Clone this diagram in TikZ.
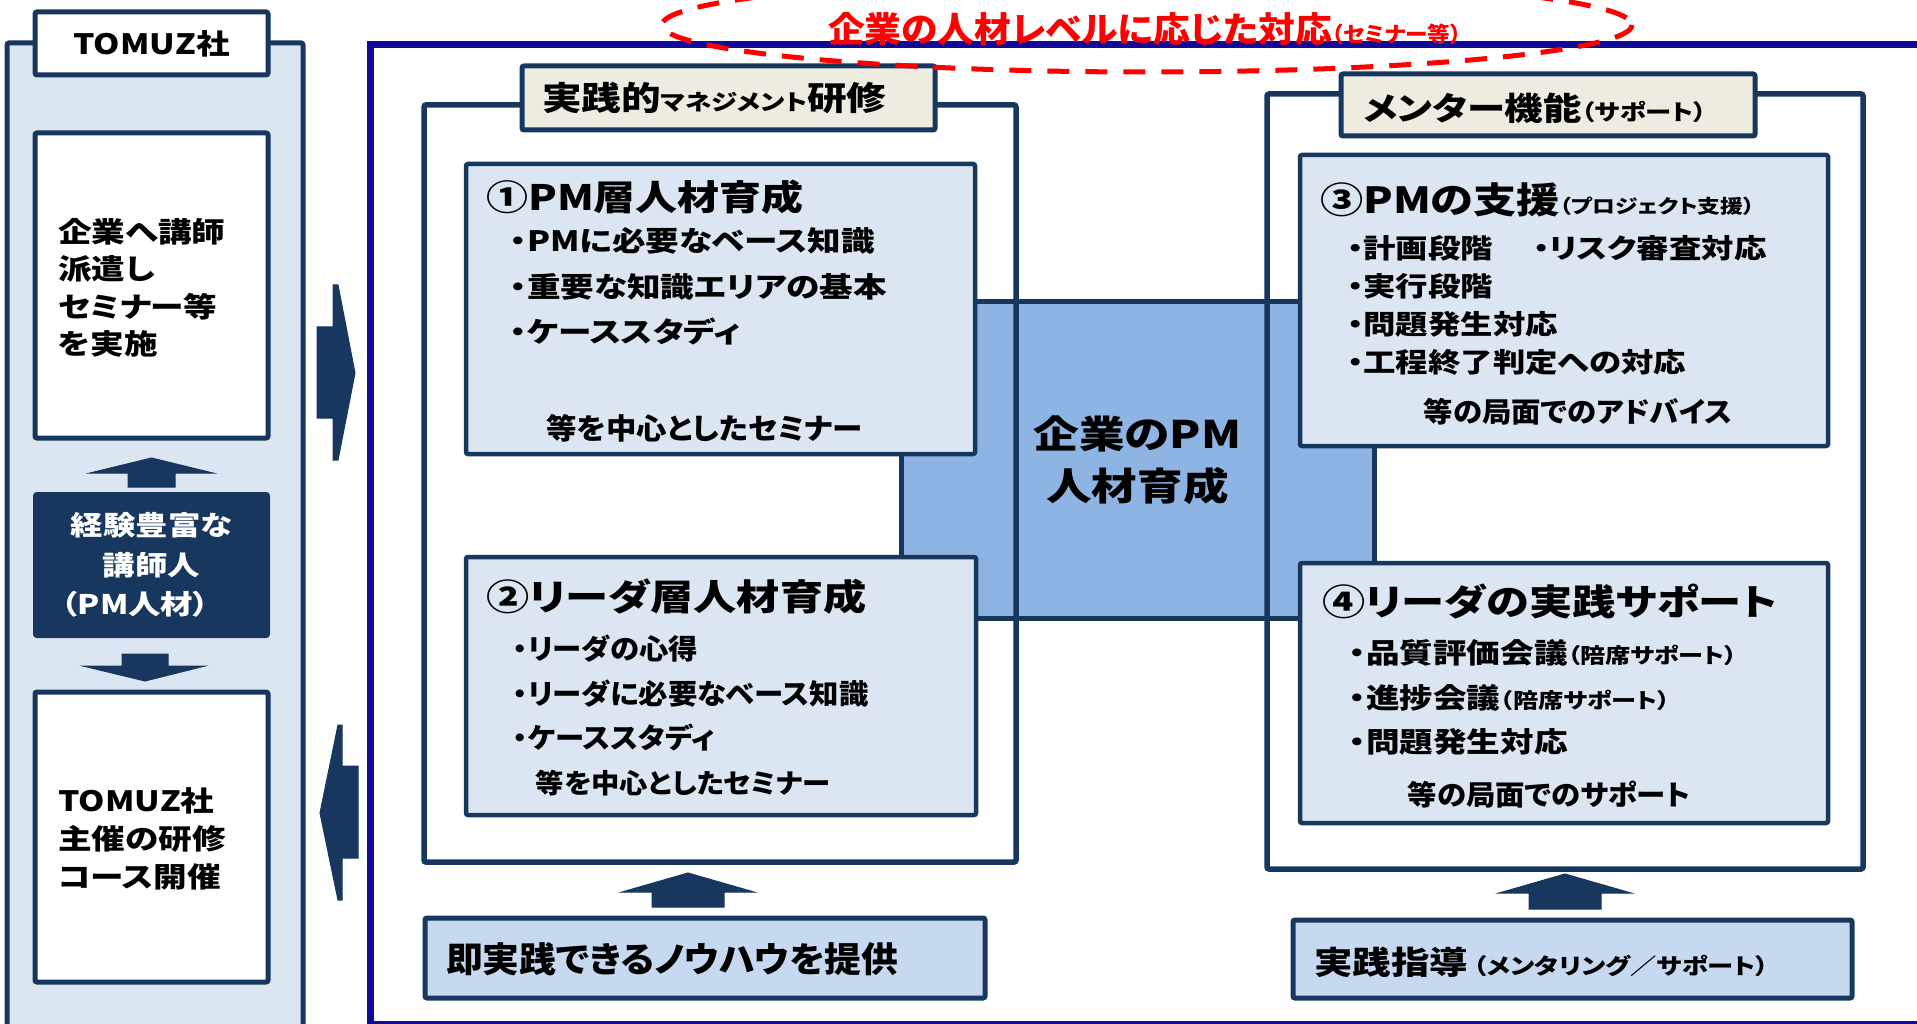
\documentclass[tikz,border=0pt]{standalone}
\usepackage{fontspec}
\setmainfont{Noto Sans CJK JP}[FakeStretch=1.2, RawFeature={+palt}]
\newfontfamily\narrowjp{Noto Sans CJK JP}[FakeStretch=1.05, RawFeature={+palt}]
\definecolor{navy}{HTML}{17375E}
\definecolor{paleblue}{HTML}{DCE6F2}
\definecolor{softblue}{HTML}{C6D9F1}
\definecolor{coreblue}{HTML}{8EB4E3}
\definecolor{tabbeige}{HTML}{EEECE1}
\definecolor{framepurple}{HTML}{110A96}
\tikzset{
	fs/.style 2 args={font=\fontsize{#1}{#2}\selectfont\bfseries},
	nfs/.style 2 args={font=\narrowjp\fontsize{#1}{#2}\selectfont\bfseries},
	txt/.style={inner sep=0pt, text=black},
	panelbox/.style={draw=navy, line width=5pt, fill=paleblue, rounded corners=2pt, inner sep=0pt},
	whitebox/.style={draw=navy, line width=5pt, fill=white, rounded corners=2pt, inner sep=0pt},
	darkbox/.style={draw=navy, line width=4pt, fill=navy, text=white, rounded corners=2pt, inner sep=0pt},
	outerframe/.style={draw=framepurple, line width=7pt, inner sep=0pt},
	bigframe/.style={draw=navy, line width=5.5pt, rounded corners=2pt, inner sep=0pt},
	tabbox/.style={draw=navy, line width=5pt, fill=tabbeige, rounded corners=2pt, inner sep=0pt},
	itembox/.style={draw=navy, line width=4.5pt, fill=paleblue, rounded corners=2pt, inner sep=0pt},
	basebox/.style={draw=navy, line width=5pt, fill=softblue, rounded corners=2pt, inner sep=0pt},
	corebox/.style={draw=navy, line width=5pt, fill=coreblue, inner sep=0pt},
	blockarrow/.style={draw=navy, fill=navy, line width=1pt, line join=miter},
	redring/.style={draw=red, line width=5pt, dash pattern=on 22pt off 16pt}
}
\begin{document}
\begin{tikzpicture}[x=1pt, y=-1pt]
	\useasboundingbox (0,0) rectangle (1917,1024);
	\fill[white] (0,0) rectangle (1917,1024);
	\clip (0,0) rectangle (1917,1024);

	% TOMUZ side
	\node (side) at (155,551.5)	[panelbox, minimum width=296pt, minimum height=1017pt]	{};
	\node (tomuz) at (151.5,43.5)	[whitebox, minimum width=233pt, minimum height=63pt, fs={28}{34}]	{TOMUZ社};
	\node (dispatch) at (151.5,285.5)	[whitebox, minimum width=233pt, minimum height=305pt]	{};
	\node (lecturer) at (151.5,565)	[darkbox, minimum width=233pt, minimum height=142pt, align=center, fs={27}{39.5}]	{経験豊富な\\講師人\\\hspace*{-32pt}（PM人材）};
	\node (course) at (151.5,837)	[whitebox, minimum width=233pt, minimum height=290pt]	{};
	\node (dispatchtext) at (58,288)	[txt, anchor=west, align=left, fs={28}{37.5}]	{企業へ講師\\派遣し\\セミナー等\\を実施};
	\node (coursetext) at (58,839)	[txt, anchor=west, align=left, fs={28}{38}]	{TOMUZ社\\主催の研修\\コース開催};
	\draw[blockarrow] (128,487) -- (128,473) -- (90,473) -- (151.5,458) -- (213,473) -- (175,473) -- (175,487) -- cycle;
	\draw[blockarrow] (122,654) -- (168,654) -- (168,666) -- (205,666) -- (145,681) -- (83,666) -- (122,666) -- cycle;

	% arrows between side and client
	\draw[blockarrow] (317,327) -- (333,327) -- (333,285) -- (338,285) -- (355,373) -- (338,460) -- (333,460) -- (333,418) -- (317,418) -- cycle;
	\draw[blockarrow] (358,766) -- (342,766) -- (342,725) -- (338,725) -- (320,813) -- (338,900) -- (342,900) -- (342,858) -- (358,858) -- cycle;

	% client side
	\node (frame) at (1180,534.5)	[outerframe, minimum width=1620pt, minimum height=979pt]	{};
	\node (core) at (1137.5,460)	[corebox, minimum width=473pt, minimum height=316pt, align=center, fs={38}{52}]	{企業のPM\\人材育成};
	\node (mgmt) at (720,483.5)	[bigframe, minimum width=592pt, minimum height=757pt]	{};
	\node (mentor) at (1565,481.5)	[bigframe, minimum width=596pt, minimum height=775pt]	{};
	\node (mgmttab) at (728.5,98)	[tabbox, minimum width=413pt, minimum height=64pt]	{};
	\node (mentortab) at (1548,105)	[tabbox, minimum width=414pt, minimum height=62pt]	{};
	\node (mgmttitle) at (542,98)	[txt, anchor=west, fs={33}{40}]	{実践的{\fontsize{22}{26}\selectfont マネジメント}研修};
	\node (mentortitle) at (1363,108)	[txt, anchor=west, fs={32}{40}]	{メンター機能{\fontsize{22}{26}\selectfont （サポート）}};

	% training items
	\node (pmdev) at (720.5,309)	[itembox, minimum width=509pt, minimum height=290pt]	{};
	\node (pmdevtitle) at (486,197)	[txt, anchor=west, fs={35}{44}]	{①PM層人材育成};
	\node (pmdevlist) at (510,286.5)	[txt, anchor=west, align=left, fs={28}{45.5}]	{・PMに必要なベース知識\\・重要な知識エリアの基本\\・ケーススタディ};
	\node (pmdevnote) at (704.5,428)	[txt, nfs={29}{34}]	{等を中心としたセミナー};
	\node (leaderdev) at (721,686)	[itembox, minimum width=510pt, minimum height=258pt]	{};
	\node (leaderdevtitle) at (486,597)	[txt, anchor=west, fs={36}{44}]	{②リーダ層人材育成};
	\node (leaderdevlist) at (513,693.5)	[txt, anchor=west, align=left, nfs={28}{44.5}]	{・リーダの心得\\・リーダに必要なベース知識\\・ケーススタディ};
	\node (leaderdevnote) at (683,783)	[txt, nfs={27}{34}]	{等を中心としたセミナー};

	% mentor items
	\node (pmsup) at (1564,300.5)	[itembox, minimum width=528pt, minimum height=291pt]	{};
	\node (pmsuptitle) at (1320,200)	[txt, anchor=west, fs={36}{44}]	{③PMの支援{\fontsize{19}{24}\selectfont （プロジェクト支援）}};
	\node (pmsuplist) at (1347,305)	[txt, anchor=west, align=left, fs={27}{38}]	{・計画段階\\・実行段階\\・問題発生対応\\・工程終了判定への対応};
	\node (pmsupextra) at (1533,248)	[txt, anchor=west, fs={27}{34}]	{・リスク審査対応};
	\node (pmsupnote) at (1578,412)	[txt, nfs={28}{34}]	{等の局面でのアドバイス};
	\node (leadersup) at (1564,693)	[itembox, minimum width=528pt, minimum height=260pt]	{};
	\node (leadersuptitle) at (1322,602)	[txt, anchor=west, fs={36}{44}]	{④リーダの実践サポート};
	\node (leadersuplist) at (1349,697.5)	[txt, anchor=west, align=left, fs={28}{44.5}]	{・品質評価会議{\fontsize{21}{26}\selectfont （陪席サポート）}\\・進捗会議{\fontsize{21}{26}\selectfont （陪席サポート）}\\・問題発生対応};
	\node (leadersupnote) at (1549,795)	[txt, nfs={28}{34}]	{等の局面でのサポート};

	% bases
	\node (knowhow) at (705,958)	[basebox, minimum width=560pt, minimum height=80pt]	{};
	\node (knowhowtext) at (446,959)	[txt, anchor=west, nfs={35}{40}]	{即実践できるノウハウを提供};
	\node (guidance) at (1572.5,959)	[basebox, minimum width=559pt, minimum height=78pt]	{};
	\node (guidancetext) at (1314,962)	[txt, anchor=west, fs={32}{40}]	{実践指導\hspace{6pt}{\fontsize{22}{28}\selectfont （メンタリング／サポート）}};
	\draw[blockarrow] (652,907) -- (652,892) -- (622,892) -- (688,873) -- (754,892) -- (724,892) -- (724,907) -- cycle;
	\draw[blockarrow] (1529,909) -- (1529,893) -- (1499,893) -- (1565,874) -- (1631,893) -- (1601,893) -- (1601,909) -- cycle;

	% level ring
	\draw[redring] (1147,25) ellipse [x radius=485, y radius=47];
	\node (levels) at (828,29)	[inner sep=0pt, anchor=west, text=red, nfs={35}{40}]	{企業の人材レベルに応じた対応{\fontsize{21.5}{26}\selectfont （セミナー等）}};
\end{tikzpicture}
\end{document}
